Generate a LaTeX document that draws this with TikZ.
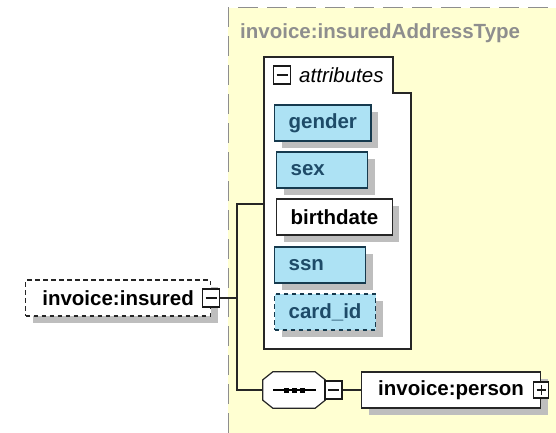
\documentclass[tikz,border=0pt]{standalone}
\usepackage{fontspec}
\setmainfont{Liberation Sans}
\usetikzlibrary{shadows}
\definecolor{typebg}{HTML}{FFFFD2}
\definecolor{attrblue}{HTML}{ADE2F4}
\definecolor{attrtext}{HTML}{1E4B68}
\definecolor{attrline}{HTML}{163A4E}
\definecolor{shade}{HTML}{BEBEBE}
\definecolor{titlegray}{HTML}{8E8E8E}
\tikzset{
  labelfont/.style={font=\fontsize{20.5}{24}\selectfont\bfseries},
  boxshadow/.style={general shadow={fill=shade, shadow xshift=7pt, shadow yshift=-7pt}},
  wire/.style={draw=black!85, line width=1.2pt},
  elem/.style={draw=black!85, line width=1.2pt, fill=white, minimum height=36pt, inner xsep=14pt, anchor=west, labelfont, boxshadow},
  attrib/.style={elem, draw=attrline, fill=attrblue, text=attrtext},
  short/.style={text width=63pt, align=left},
  toggle/.style={draw=black!90, fill=white, line width=1.3pt, minimum width=17pt, minimum height=18pt, inner sep=0pt},
  minus/.style={toggle, path picture={\draw[line width=1.2pt] ([xshift=3pt]path picture bounding box.west) -- ([xshift=-3pt]path picture bounding box.east);}},
  plus/.style={toggle, path picture={
    \draw[line width=1.2pt] ([xshift=3pt]path picture bounding box.west) -- ([xshift=-3pt]path picture bounding box.east);
    \draw[line width=1.2pt] ([yshift=3pt]path picture bounding box.south) -- ([yshift=-3pt]path picture bounding box.north);}},
}
\begin{document}
\begin{tikzpicture}[x=1pt, y=-1pt]
\useasboundingbox (0,0) rectangle (556,433);
% complex type area
\fill[typebg] (228,8) rectangle (556,433);
\draw[titlegray, line width=1pt, dash pattern=on 20pt off 9pt] (228,433) -- (228,8) -- (556,8);
\node[titlegray, anchor=west, inner sep=0pt, labelfont] (typename) at (240,33) {invoice:insuredAddressType};

% attribute group
\draw[wire, fill=white] (264,57) -- (393,57) -- (393,93) -- (411,93) -- (411,349) -- (264,349) -- cycle;
\node[minus] (attrtoggle) at (282,75) {};
\node[anchor=west, inner sep=0pt, font=\fontsize{20.5}{24}\selectfont\itshape] (attrlabel) at (299,75) {attributes};
\coordinate (attrs) at (264,204);
\node[attrib] (gender) at (274,123) {gender};
\node[attrib, short] (sex) at (276,170) {sex};
\node[elem] (birthdate) at (276,217) {birthdate};
\node[attrib, short] (ssn) at (274,265) {ssn};
\node[attrib, dash pattern=on 4.5pt off 3.5pt] (cardid) at (274,312) {card\_id};

% element and sequence
\node[elem, dash pattern=on 4.5pt off 3.5pt, minimum width=185pt] (insured) at (25,298) {invoice:insured};
\node[minus] (insuredtoggle) at (insured.east) {};
\node[minimum width=62pt, minimum height=36pt, inner sep=0pt] (seq) at (294,390) {};
\fill[shade, xshift=6pt, yshift=-6pt] ([xshift=10pt]seq.north west) -- ([xshift=-10pt]seq.north east) -- ([yshift=-8pt]seq.north east) -- ([yshift=8pt]seq.south east) -- ([xshift=-10pt]seq.south east) -- ([xshift=10pt]seq.south west) -- ([yshift=8pt]seq.south west) -- ([yshift=-8pt]seq.north west) -- cycle;
\draw[wire, fill=white] ([xshift=10pt]seq.north west) -- ([xshift=-10pt]seq.north east) -- ([yshift=-8pt]seq.north east) -- ([yshift=8pt]seq.south east) -- ([xshift=-10pt]seq.south east) -- ([xshift=10pt]seq.south west) -- ([yshift=8pt]seq.south west) -- ([yshift=-8pt]seq.north west) -- cycle;
\draw[line width=1.6pt] ([xshift=-21pt]seq.center) -- ([xshift=22pt]seq.center);
\foreach \dx in {-8,0,8}
  \fill ([xshift=\dx pt]seq.center) ++(-2.5,-2.5) rectangle ++(5,5);
\node[minus, anchor=west] (seqtoggle) at ([xshift=-1pt]seq.east) {};
\node[elem, minimum width=179pt] (person) at (361,390) {invoice:person};
\node[plus, minimum width=15pt, minimum height=16pt] (persontoggle) at (person.east) {};

\coordinate (branch) at (237,297);
\draw[wire] (insuredtoggle.east) -- (insuredtoggle.east -| branch);
\draw[wire] (attrs) -- (attrs -| branch) -- (seq.west -| branch) -- (seq.west);
\draw[wire] (seqtoggle) -- (person);
\end{tikzpicture}
\end{document}
